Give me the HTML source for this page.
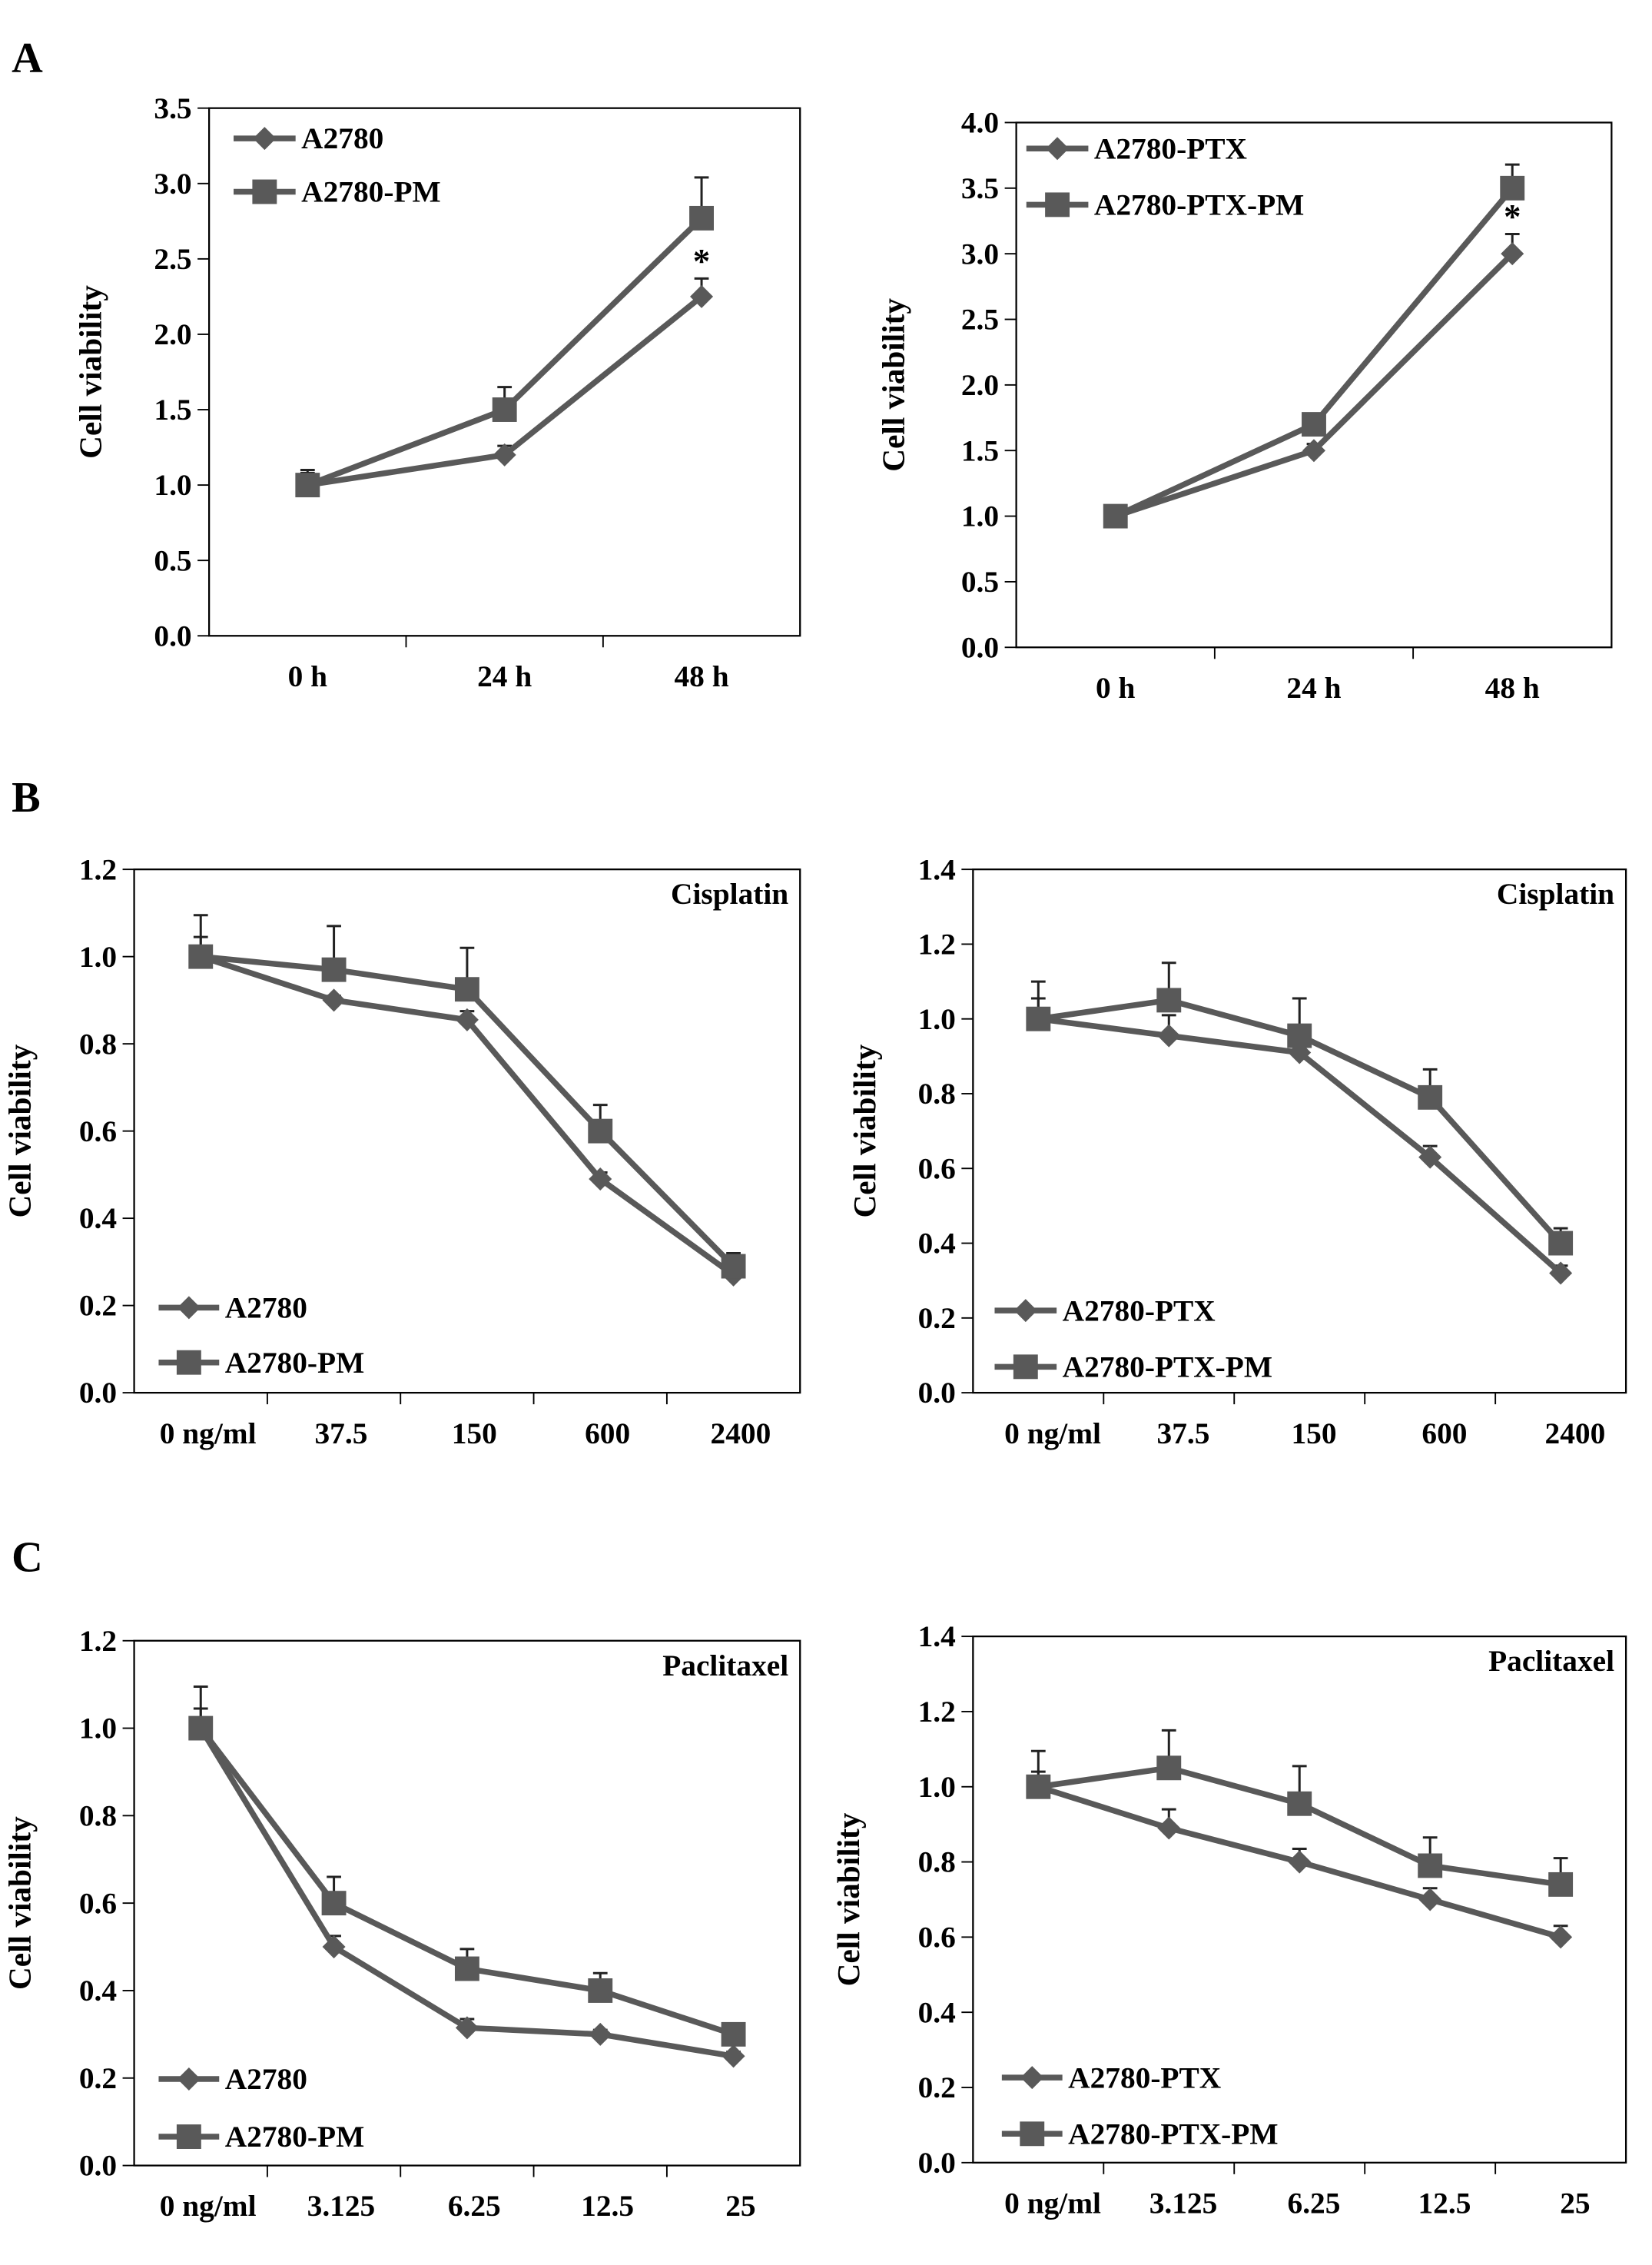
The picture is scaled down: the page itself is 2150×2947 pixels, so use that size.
<!DOCTYPE html>
<html><head><meta charset="utf-8"><style>
html,body{margin:0;padding:0;background:#fff}
svg{display:block}
text{font-family:"Liberation Serif",serif;font-weight:bold;fill:#000}
</style></head><body>
<svg id="fig" width="2150" height="2947" viewBox="0 0 1146 1571" xmlns="http://www.w3.org/2000/svg">
<text x="8" y="50" font-size="30">A</text>
<text x="8" y="563" font-size="30">B</text>
<text x="8" y="1090" font-size="30">C</text>
</svg>
<script>
// Panel A left
const aLeftCategories = ["0 h","24 h","48 h"];
const aLeftTicks = ["0.0","0.5","1.0","1.5","2.0","2.5","3.0","3.5"];
const aLeftS1 = [1.0,1.2,2.25];
const aLeftS1Err = [0.1,0.06,0.12];
const aLeftS2 = [1.0,1.5,2.77];
const aLeftS2Err = [0.08,0.15,0.27];
// Panel A right
const aRightCategories = ["0 h","24 h","48 h"];
const aRightTicks = ["0.0","0.5","1.0","1.5","2.0","2.5","3.0","3.5","4.0"];
const aRightS1 = [1.0,1.5,3.0];
const aRightS1Err = [0.03,0.05,0.15];
const aRightS2 = [1.0,1.7,3.5];
const aRightS2Err = [0.03,0.05,0.18];
// Panel B
const bCategories = ["0 ng/ml","37.5","150","600","2400"];
const bLeftTicks = ["0.0","0.2","0.4","0.6","0.8","1.0","1.2"];
const bLeftS1 = [1.0,0.9,0.855,0.49,0.27];
const bLeftS1Err = [0.045,0.01,0.02,0.015,0.01];
const bLeftS2 = [1.0,0.97,0.925,0.6,0.29];
const bLeftS2Err = [0.095,0.1,0.095,0.06,0.03];
const bRightTicks = ["0.0","0.2","0.4","0.6","0.8","1.0","1.2","1.4"];
const bRightS1 = [1.0,0.955,0.91,0.63,0.32];
const bRightS1Err = [0.055,0.055,0.015,0.03,0.02];
const bRightS2 = [1.0,1.05,0.955,0.79,0.40];
const bRightS2Err = [0.1,0.1,0.1,0.075,0.04];
// Panel C
const cCategories = ["0 ng/ml","3.125","6.25","12.5","25"];
const cLeftTicks = ["0.0","0.2","0.4","0.6","0.8","1.0","1.2"];
const cLeftS1 = [1.0,0.5,0.315,0.3,0.25];
const cLeftS1Err = [0.045,0.025,0.02,0.01,0.01];
const cLeftS2 = [1.0,0.6,0.45,0.4,0.3];
const cLeftS2Err = [0.095,0.06,0.045,0.04,0.01];
const cRightTicks = ["0.0","0.2","0.4","0.6","0.8","1.0","1.2","1.4"];
const cRightS1 = [1.0,0.89,0.8,0.7,0.6];
const cRightS1Err = [0.04,0.05,0.035,0.03,0.03];
const cRightS2 = [1.0,1.05,0.955,0.79,0.74];
const cRightS2Err = [0.095,0.1,0.1,0.075,0.07];

const NS="http://www.w3.org/2000/svg";
const svg=document.getElementById('fig');
const C="#595959";
function mk(tag,attrs,parent){const e=document.createElementNS(NS,tag);for(const k in attrs)e.setAttribute(k,attrs[k]);(parent||svg).appendChild(e);return e;}

function panel(o){
  const g=mk('g',{});
  
  
  const n=o.cats.length, L=o.box[0],R=o.box[1],T=o.box[2],B=o.box[3];
  const ymax=parseFloat(o.ticks[o.ticks.length-1]);
  const y=v=>B-(v/ymax)*(B-T);
  const cw=(R-L)/n;
  const x=i=>L+cw*(i+0.5);
  const frame=mk('rect',{x:L,y:T,width:R-L,height:B-T,fill:'none',stroke:'#000','stroke-width':1.2},g);
  
  
  o.ticks.forEach(t=>{
    const yy=y(parseFloat(t));
    mk('line',{x1:L-8,x2:L,y1:yy,y2:yy,stroke:'#000','stroke-width':1},g);
    const tx=mk('text',{x:L-12,y:yy+7,'font-size':21,'text-anchor':'end'},g);
    tx.textContent=t;
    
    
  });
  for(let i=1;i<n;i++){mk('line',{x1:L+cw*i,x2:L+cw*i,y1:B,y2:B+8,stroke:'#000','stroke-width':1},g);}
  o.cats.forEach((c,i)=>{
    const tx=mk('text',{x:x(i)+(o.labShift||0),y:B+35,'font-size':21,'text-anchor':'middle'},g);
    tx.textContent=c;
    
    
  });
  const yt=mk('text',{x:0,y:0,'font-size':22,'text-anchor':'middle',transform:`translate(${o.ytx},${(T+B)/2}) rotate(-90)`},g);
  yt.textContent='Cell viability';
  
  
  if(o.title){
    const tt=mk('text',{x:R-8,y:T+24,'font-size':21,'text-anchor':'end'},g);
    tt.textContent=o.title;
    
    
  }
  [[o.s2,o.e2],[o.s1,o.e1]].forEach(([s,e])=>{
    s.forEach((v,i)=>{
      const eb=mk('path',{d:`M${x(i)},${y(v)}V${y(v+e[i])}M${x(i)-5},${y(v+e[i])}H${x(i)+5}`,stroke:'#222','stroke-width':1.6,fill:'none'},g);
      
      
    });
  });
  [[o.s1,'diamond'],[o.s2,'square']].forEach(([s,m])=>{
    const ln=mk('polyline',{points:s.map((v,i)=>x(i)+','+y(v)).join(' '),fill:'none',stroke:C,'stroke-width':4},g);
    
    
    s.forEach((v,i)=>{
      let mrk;
      if(m==='diamond') mrk=mk('path',{d:`M${x(i)},${y(v)-8}L${x(i)+8},${y(v)}L${x(i)},${y(v)+8}L${x(i)-8},${y(v)}Z`,fill:C},g);
      else mrk=mk('rect',{x:x(i)-8.5,y:y(v)-8.5,width:17,height:17,fill:C},g);
      
      
    });
  });
  const lg=o.leg;
  [[o.n1,'diamond',lg[2]],[o.n2,'square',lg[3]]].forEach(([nm,m,yy])=>{
    const le=mk('g',{},g);
    
    
    mk('line',{x1:lg[0],x2:lg[1],y1:yy,y2:yy,stroke:C,'stroke-width':4},le);
    const cx=(lg[0]+lg[1])/2;
    if(m==='diamond') mk('path',{d:`M${cx},${yy-8}L${cx+8},${yy}L${cx},${yy+8}L${cx-8},${yy}Z`,fill:C},le);
    else mk('rect',{x:cx-8.5,y:yy-8.5,width:17,height:17,fill:C},le);
    const t=mk('text',{x:lg[1]+4,y:yy+7,'font-size':21},le);
    t.textContent=nm;
  });
  if(o.star){
    const st=mk('text',{x:x(n-1),y:y(o.s1[n-1]+o.e1[n-1])-4,'font-size':24,'text-anchor':'middle'},g);
    st.textContent='*';
    
    
  }
}
panel({name:'panel-a-left',cats:aLeftCategories,ticks:aLeftTicks,s1:aLeftS1,e1:aLeftS1Err,s2:aLeftS2,e2:aLeftS2Err,box:[145,555,75,441],ytx:70,n1:'A2780',n2:'A2780-PM',leg:[162,205,96,133],star:true});
panel({name:'panel-a-right',cats:aRightCategories,ticks:aRightTicks,s1:aRightS1,e1:aRightS1Err,s2:aRightS2,e2:aRightS2Err,box:[705,1118,85,449],ytx:627,n1:'A2780-PTX',n2:'A2780-PTX-PM',leg:[712,755,103,142],star:true});
panel({name:'panel-b-left',cats:bCategories,ticks:bLeftTicks,s1:bLeftS1,e1:bLeftS1Err,s2:bLeftS2,e2:bLeftS2Err,box:[93,555,603,966],ytx:21,title:'Cisplatin',n1:'A2780',n2:'A2780-PM',leg:[110,152,907,945],labShift:5});
panel({name:'panel-b-right',cats:bCategories,ticks:bRightTicks,s1:bRightS1,e1:bRightS1Err,s2:bRightS2,e2:bRightS2Err,box:[675,1128,603,966],ytx:607,title:'Cisplatin',n1:'A2780-PTX',n2:'A2780-PTX-PM',leg:[690,733,909,948],labShift:10});
panel({name:'panel-c-left',cats:cCategories,ticks:cLeftTicks,s1:cLeftS1,e1:cLeftS1Err,s2:cLeftS2,e2:cLeftS2Err,box:[93,555,1138,1502],ytx:21,title:'Paclitaxel',n1:'A2780',n2:'A2780-PM',leg:[110,152,1442,1482],labShift:5});
panel({name:'panel-c-right',cats:cCategories,ticks:cRightTicks,s1:cRightS1,e1:cRightS1Err,s2:cRightS2,e2:cRightS2Err,box:[675,1128,1135,1500],ytx:596,title:'Paclitaxel',n1:'A2780-PTX',n2:'A2780-PTX-PM',leg:[695,737,1441,1480],labShift:10});
</script>
</body></html>
